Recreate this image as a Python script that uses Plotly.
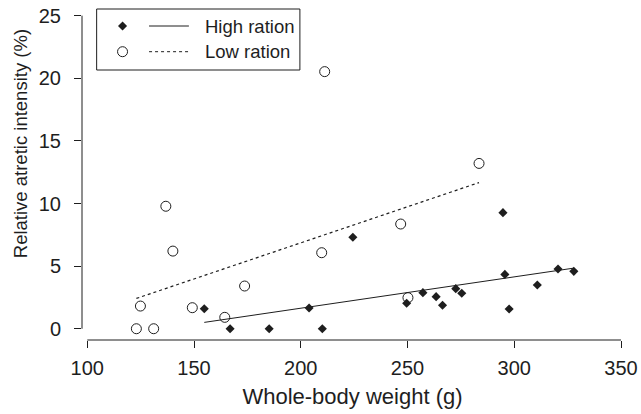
import numpy as np
import plotly.graph_objects as go

# Whole-body weight (g) and relative atretic intensity (%) per fish
high_weight = [154.8, 166.9, 185.2, 203.9, 210.1, 224.4, 249.6, 257.2, 263.4,
               266.4, 272.6, 275.4, 294.7, 295.6, 297.6, 310.8, 320.5, 327.9]
high_atresia = [1.60, 0.00, 0.00, 1.65, 0.00, 7.30, 2.03, 2.88, 2.56,
                1.87, 3.20, 2.83, 9.27, 4.34, 1.57, 3.49, 4.77, 4.58]

low_weight = [123.0, 124.9, 131.1, 136.8, 140.1, 149.2, 164.4, 173.7,
              209.8, 211.2, 246.8, 250.2, 283.5]
low_atresia = [0.00, 1.81, 0.00, 9.78, 6.20, 1.68, 0.91, 3.41,
               6.07, 20.53, 8.36, 2.48, 13.20]

x_ticks = [100, 150, 200, 250, 300, 350]
y_ticks = [0, 5, 10, 15, 20, 25]
series_names = ["High ration", "Low ration"]
x_title = "Whole-body weight (g)"
y_title = "Relative atretic intensity (%)"

# Canvas geometry (pixels)
W, H = 641, 414
ML, MR, MT, MB = 82, 16, 3, 74
PW, PH = W - ML - MR, H - MT - MB

FONT = "Liberation Sans, Arial, Helvetica, sans-serif"
INK = "#1e1e1e"


def px_to_paper(px, py):
    return (px - ML) / PW, (H - MB - py) / PH


def fit_line(xs, ys):
    slope, intercept = np.polyfit(xs, ys, 1)
    xr = np.array([min(xs), max(xs)])
    return xr, intercept + slope * xr


fig = go.Figure()

# Least-squares fits for each ration group
hx, hy = fit_line(high_weight, high_atresia)
lx, ly = fit_line(low_weight, low_atresia)
fig.add_trace(go.Scatter(x=hx, y=hy, mode="lines",
                         line=dict(color=INK, width=1), showlegend=False,
                         hoverinfo="skip"))
fig.add_trace(go.Scatter(x=lx, y=ly, mode="lines",
                         line=dict(color=INK, width=1.2, dash="dot"),
                         showlegend=False, hoverinfo="skip"))

# Observations
fig.add_trace(go.Scatter(x=high_weight, y=high_atresia, mode="markers",
                         name=series_names[0], showlegend=False,
                         marker=dict(symbol="diamond", size=7, color=INK,
                                     line=dict(width=0))))
fig.add_trace(go.Scatter(x=low_weight, y=low_atresia, mode="markers",
                         name=series_names[1], showlegend=False,
                         marker=dict(symbol="circle-open", size=10, color=INK,
                                     line=dict(width=1, color=INK))))

# Legend key, drawn on an overlay axis that spans the plotting area (0..1)
key_px = [(122.7, 26.0), (122.7, 51.7)]
key_pts = [px_to_paper(*p) for p in key_px]
fig.add_trace(go.Scatter(x=[key_pts[0][0]], y=[key_pts[0][1]], mode="markers",
                         xaxis="x2", yaxis="y2", showlegend=False,
                         hoverinfo="skip",
                         marker=dict(symbol="diamond", size=7, color=INK)))
fig.add_trace(go.Scatter(x=[key_pts[1][0]], y=[key_pts[1][1]], mode="markers",
                         xaxis="x2", yaxis="y2", showlegend=False,
                         hoverinfo="skip",
                         marker=dict(symbol="circle-open", size=10, color=INK,
                                     line=dict(width=1, color=INK))))

shapes = []
# Legend frame
bx0, by0 = px_to_paper(96.7, 70.0)
bx1, by1 = px_to_paper(300.7, 9.0)
shapes.append(dict(type="rect", xref="paper", yref="paper",
                   x0=bx0, y0=by0, x1=bx1, y1=by1,
                   line=dict(color=INK, width=1), fillcolor="white", layer="below"))
lx0, _ = px_to_paper(149.3, 0)
lx1, _ = px_to_paper(189.3, 0)
for (kx, ky), dash in zip(key_pts, ["solid", "dot"]):
    shapes.append(dict(type="line", xref="paper", yref="paper",
                       x0=lx0, x1=lx1, y0=ky, y1=ky,
                       line=dict(color=INK, width=1, dash=dash)))

# Detached axis lines spanning the first to last tick
shapes.append(dict(type="line", xref="x", yref="paper",
                   x0=x_ticks[0], x1=x_ticks[-1], y0=0, y1=0,
                   line=dict(color=INK, width=1)))
shapes.append(dict(type="line", xref="paper", yref="y",
                   x0=0, x1=0, y0=y_ticks[0], y1=y_ticks[-1],
                   line=dict(color=INK, width=1)))

tx, _ = px_to_paper(203.3, 0)
annotations = [dict(xref="paper", yref="paper", x=tx, y=ky, text=name,
                    showarrow=False, xanchor="left", yanchor="middle",
                    font=dict(family=FONT, size=18.5, color=INK))
               for (kx, ky), name in zip(key_pts, series_names)]

# Vertical axis title
ytx, yty = px_to_paper(20, 144)
annotations.append(dict(xref="paper", yref="paper", x=ytx, y=yty,
                        text=y_title, textangle=-90, showarrow=False,
                        xanchor="center", yanchor="middle",
                        font=dict(family=FONT, size=18.5, color=INK)))

fig.update_layout(
    width=W, height=H,
    margin=dict(l=ML, r=MR, t=MT, b=MB),
    paper_bgcolor="white", plot_bgcolor="white",
    font=dict(family=FONT, size=20, color=INK),
    shapes=shapes, annotations=annotations,
    xaxis=dict(range=[97.53, 350.93], tickvals=x_ticks,
               ticks="outside", ticklen=7, tickwidth=1, tickcolor=INK,
               showgrid=False, zeroline=False, showline=False,
               tickfont=dict(size=20), ticklabelstandoff=3,
               title=dict(text=x_title, font=dict(size=22), standoff=10)),
    yaxis=dict(range=[-0.90, 26.01], tickvals=y_ticks,
               ticks="outside", ticklen=7, tickwidth=1, tickcolor=INK,
               showgrid=False, zeroline=False, showline=False,
               tickfont=dict(size=20), ticklabelstandoff=9),
    xaxis2=dict(overlaying="x", range=[0, 1], visible=False),
    yaxis2=dict(overlaying="y", range=[0, 1], visible=False),
)

fig.write_html("out.html")
